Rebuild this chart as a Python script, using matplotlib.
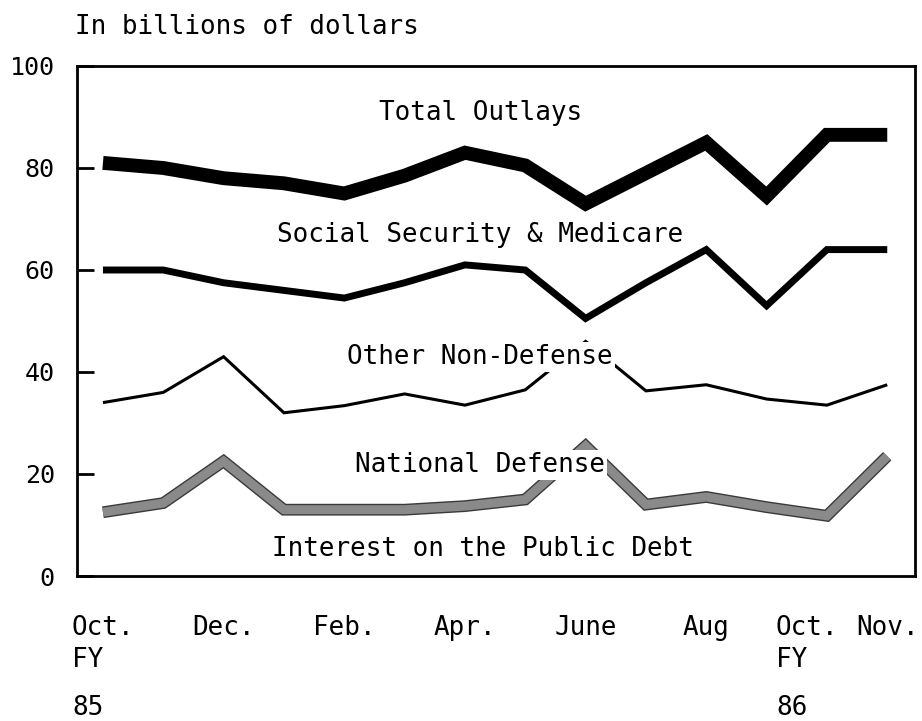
import matplotlib
matplotlib.use("Agg")
import matplotlib.pyplot as plt
import matplotlib.patheffects as pe

months = ['Oct', 'Nov', 'Dec', 'Jan', 'Feb', 'Mar', 'Apr', 'May', 'Jun', 'Jul', 'Aug', 'Sep', 'Oct', 'Nov']
total_outlays = [81, 80, 78, 77, 75, 78.5, 83, 80.5, 73, 79, 85, 74.5, 86.5, 86.5]
social_security = [60, 60, 57.5, 56, 54.5, 57.5, 61, 60, 50.5, 57.5, 64, 53, 64, 64]
other_nondefense = [34, 36, 43, 32, 33.4, 35.7, 33.5, 36.5, 46, 36.3, 37.5, 34.7, 33.5, 37.5]
national_defense = [12.5, 14.3, 22.5, 13, 13, 13, 13.7, 15, 25.5, 14, 15.5, 13.5, 11.8, 23.5]

xtick_idx = [0, 2, 4, 6, 8, 10, 12, 13]
xtick_labels = ['Oct.', 'Dec.', 'Feb.', 'Apr.', 'June', 'Aug', 'Oct.', 'Nov.']
fy_labels = {0: '85', 12: '86'}
yticks = [0, 20, 40, 60, 80, 100]

FONT = 'DejaVu Sans Mono'
plt.rcParams['font.family'] = [FONT, 'DejaVu Sans']
FS = 18.7

W, H = 922, 721
fig = plt.figure(figsize=(W / 100, H / 100), dpi=100)
left, right, top, bottom = 77, 915, 66, 576
ax = fig.add_axes([left / W, 1 - bottom / H, (right - left) / W, (bottom - top) / H])

x = list(range(len(months)))

# lines
ax.plot(x, total_outlays, color='black', lw=10, solid_capstyle='butt', solid_joinstyle='miter', zorder=3)
ax.plot(x, social_security, color='black', lw=5, solid_capstyle='butt', solid_joinstyle='miter', zorder=3)
ax.plot(x, other_nondefense, color='black', lw=2.2, solid_capstyle='butt', solid_joinstyle='miter', zorder=3)
ax.plot(x, national_defense, color='#8a8a8a', lw=6.5, solid_capstyle='butt', solid_joinstyle='miter', zorder=3,
        path_effects=[pe.Stroke(linewidth=8.5, foreground='#3a3a3a'), pe.Normal()])

ax.set_xlim(-0.43, 13.46)
ax.set_ylim(0, 100)

# series labels
lab_kw = dict(ha='center', va='center', fontsize=FS, family=FONT, zorder=5,
              bbox=dict(facecolor='white', edgecolor='none', pad=1.5))
def put(text, px, py):
    ax.text((px - left) / (right - left), 1 - (py - top) / (bottom - top), text,
            transform=ax.transAxes, **lab_kw)

put('Total Outlays', 481, 113)
put('Social Security & Medicare', 480, 235)
put('Other Non-Defense', 480, 357)
put('National Defense', 480, 465)
put('Interest on the Public Debt', 483, 549)

# axes styling
for s in ax.spines.values():
    s.set_linewidth(2)
ax.set_yticks(yticks)
ax.set_yticklabels([str(v) for v in yticks], fontsize=18, family=FONT)
ax.tick_params(axis='y', direction='in', length=12, width=2, pad=16)
ax.set_xticks([])

# x labels
offsets = {12: -20}
for i, lab in zip(xtick_idx, xtick_labels):
    dx = offsets.get(i, 0)
    ax.annotate(lab, xy=(i, 0), xycoords=('data', 'axes fraction'),
                xytext=(dx, -(628 - bottom)), textcoords='offset pixels',
                ha='center', va='center', fontsize=FS, family=FONT)
    if i in fy_labels:
        for txt, yy in (('FY', 660), (fy_labels[i], 708)):
            ax.annotate(txt, xy=(i, 0), xycoords=('data', 'axes fraction'),
                        xytext=(dx - 31, -(yy - bottom)), textcoords='offset pixels',
                        ha='left', va='center', fontsize=FS, family=FONT)

fig.text(75 / W, 1 - 27 / H, 'In billions of dollars', ha='left', va='center', fontsize=FS, family=FONT)

fig.savefig('out.png', dpi=100)
